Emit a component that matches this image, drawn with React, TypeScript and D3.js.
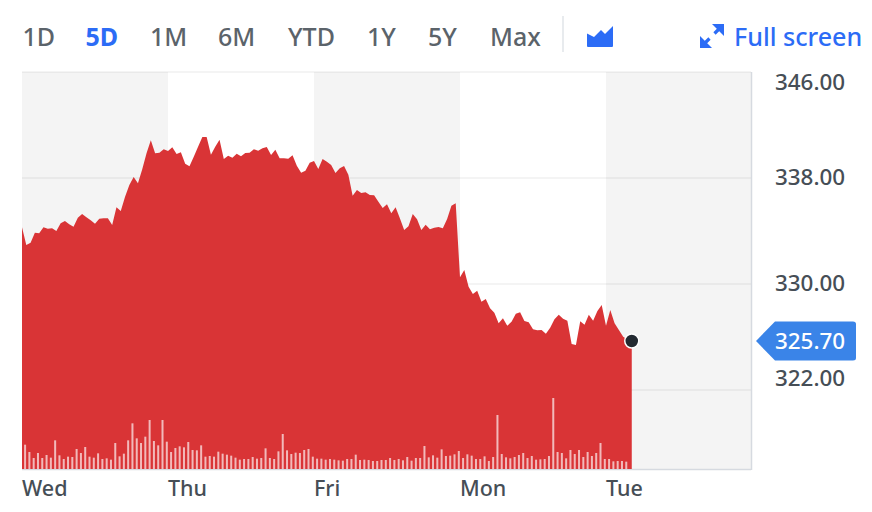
import * as d3 from "d3";
import React from "react";

const ranges = ["1D", "5D", "1M", "6M", "YTD", "1Y", "5Y", "Max"];
const rangeX = [22.5, 85.5, 150, 218, 288, 367, 428, 490];
const activeRange = "5D";

const days = ["Wed", "Thu", "Fri", "Mon", "Tue"];
const dayStarts = [0, 34, 68, 102, 136];
const shadedDays = [0, 2, 4];

const yTicks = [346, 338, 330, 322];
// the site nudges its tick labels so they do not sit exactly on the grid lines
const yTickNudge = [10, -1, -1, -12];

const lastPrice = 325.7;

const prices = [
  334.28, 332.94, 333.12, 333.87, 333.83, 334.28, 334.17, 334.2, 334.0, 334.58, 334.75, 334.51, 334.32, 335.0, 335.28, 335.03, 334.81,
  334.55, 334.93, 334.96, 334.96, 334.45, 335.79, 335.51, 336.59, 337.47, 338.08, 337.6, 338.66, 339.86, 340.85, 339.86, 339.91, 340.17,
  340.04, 340.32, 339.81, 339.94, 339.08, 338.88, 339.61, 340.36, 341.09, 341.09, 339.76, 340.36, 340.89, 339.43, 339.68, 339.53, 339.83,
  339.64, 339.89, 339.91, 340.17, 340.06, 340.24, 340.34, 339.74, 340.14, 339.49, 339.49, 339.46, 339.71, 338.93, 338.4, 338.55, 339.15,
  339.28, 338.68, 339.43, 339.23, 338.98, 338.38, 338.73, 338.91, 338.25, 336.66, 337.09, 336.87, 336.92, 336.72, 336.69, 336.21, 335.74,
  336.02, 335.34, 335.79, 334.96, 334.08, 334.35, 335.28, 334.88, 334.08, 334.48, 334.13, 334.25, 334.3, 334.2, 334.91, 335.91, 336.09,
  330.51, 331.06, 329.8, 329.25, 329.49, 328.66, 328.87, 328.17, 327.83, 327.03, 327.41, 326.85, 327.15, 327.76, 327.86, 327.21, 327.11,
  326.58, 326.51, 326.53, 326.25, 326.7, 327.34, 327.68, 327.38, 327.23, 325.47, 325.4, 327.18, 326.93, 327.68, 327.23, 327.96, 328.42,
  326.85, 328.04, 327.03, 326.53, 326.02, 325.81, 325.7,
];

// relative volume
const volumes = [
  73, 51, 33, 48, 33, 42, 34, 86, 41, 30, 37, 36, 60, 48, 66, 37, 34, 47, 30, 32, 28, 78, 38, 46, 86, 137, 92, 78, 97, 147, 84, 71, 147, 82,
  51, 63, 68, 65, 81, 57, 56, 71, 37, 39, 37, 52, 46, 43, 40, 34, 28, 30, 30, 36, 31, 33, 62, 33, 30, 53, 105, 56, 45, 49, 48, 57, 60, 37,
  31, 31, 28, 30, 28, 26, 25, 30, 30, 43, 27, 28, 27, 24, 24, 27, 27, 33, 27, 30, 26, 36, 25, 33, 33, 69, 35, 41, 34, 59, 39, 40, 44, 54,
  33, 44, 40, 30, 30, 38, 24, 36, 162, 45, 35, 32, 36, 42, 48, 33, 39, 28, 29, 30, 39, 213, 51, 48, 32, 57, 45, 57, 36, 51, 39, 48, 78, 30,
  30, 23, 24, 24, 22,
];

const width = 872;
const height = 512;
const plotLeft = 22;
const plotRight = 752;
const plotTop = 72;
const plotBottom = 469;

const font = '"Noto Sans", sans-serif';
const blue = "#2c6cf6";

export default function App() {
  const x = d3.scaleLinear().domain([0, 170]).range([plotLeft, plotRight]);
  const y = d3
    .scaleLinear()
    .domain([346, 322])
    .range([72, 390]);
  const vol = d3
    .scaleLinear()
    .domain([0, 100])
    .range([plotBottom, plotBottom - 100 / 3]);

  const area = d3
    .area<number>()
    .x((_, i) => x(i))
    .y0(plotBottom)
    .y1((d) => y(d));

  const bandEnds = [...dayStarts.slice(1), 170];

  return (
    <svg width={width} height={height} style={{ position: "absolute", left: 0, top: 0, fontFamily: font }}>
      {/* range tabs */}
      {ranges.map((r, i) => (
        <text
          key={r}
          x={rangeX[i]}
          y={46}
          fontSize={25}
          fontWeight={r === activeRange ? 700 : 500}
          fill={r === activeRange ? blue : "#5b636a"}
        >
          {r}
        </text>
      ))}
      <line x1={563} x2={563} y1={16} y2={52} stroke="#e0e4e9" strokeWidth={1.5} />
      <path d="M587 33.5 L594 37 L601 30 L605 34 L613 26 L613 46 Q613 47 612 47 L588 47 Q587 47 587 46 Z" fill={blue} />
      <path d="M703 45 L709.5 38.5 M714.5 33.5 L721 27" stroke={blue} strokeWidth={3.2} fill="none" />
      <path d="M712 24 L724 24 L724 36 L719.5 31.5 L716.5 28.5 Z" fill={blue} />
      <path d="M700 48 L700 36 L704.5 40.5 L707.5 43.5 L712 48 Z" fill={blue} />
      <text x={734} y={46} fontSize={25.1} fontWeight={500} fill={blue}>
        Full screen
      </text>

      {/* shading on alternating days */}
      {shadedDays.map((d) => (
        <rect key={d} x={x(dayStarts[d])} width={Math.min(x(bandEnds[d]), 751) - x(dayStarts[d])} y={plotTop} height={plotBottom - plotTop} fill="#f4f4f4" />
      ))}

      {/* grid */}
      {yTicks.map((t) => (
        <line key={t} x1={plotLeft} x2={751} y1={y(t)} y2={y(t)} stroke="#000" strokeOpacity={0.06} strokeWidth={1.5} />
      ))}
      <line x1={751.5} x2={751.5} y1={plotTop} y2={plotBottom + 1} stroke="#d6dae0" strokeWidth={1.5} />
      <line x1={plotLeft} x2={751} y1={plotBottom + 0.5} y2={plotBottom + 0.5} stroke="#d6dae0" strokeWidth={1.5} />

      <path d={area(prices) ?? ""} fill="#d93436" />

      {/* volume */}
      {volumes.map((v, i) => (
        <rect key={i} x={x(i + 0.72) - 1} y={vol(v)} width={2} height={plotBottom - vol(v)} fill="#fff" fillOpacity={0.66} />
      ))}

      {/* last price marker */}
      <circle cx={x(prices.length - 1)} cy={y(lastPrice)} r={7} fill="#232a31" stroke="#fff" strokeWidth={1.5} />

      {/* y labels */}
      {yTicks.map((t, i) => (
        <text key={t} x={775} y={y(t) + yTickNudge[i]} dy="0.36em" fontSize={22.4} fontWeight={500} fill="#464e56">
          {d3.format(".2f")(t)}
        </text>
      ))}
      <path
        d={`M756 ${y(lastPrice)} L775 321.5 L853 321.5 Q856 321.5 856 324 L856 358 Q856 360.5 853 360.5 L775 360.5 Z`}
        fill="#3a84e8"
      />
      <text x={775} y={y(lastPrice)} dy="0.36em" fontSize={22.4} fontWeight={500} fill="#fff">
        {d3.format(".2f")(lastPrice)}
      </text>

      {/* x labels */}
      {days.map((d, i) => (
        <text key={d} x={x(dayStarts[i])} y={496} fontSize={21.5} fontWeight={500} fill="#464e56">
          {d}
        </text>
      ))}
    </svg>
  );
}
